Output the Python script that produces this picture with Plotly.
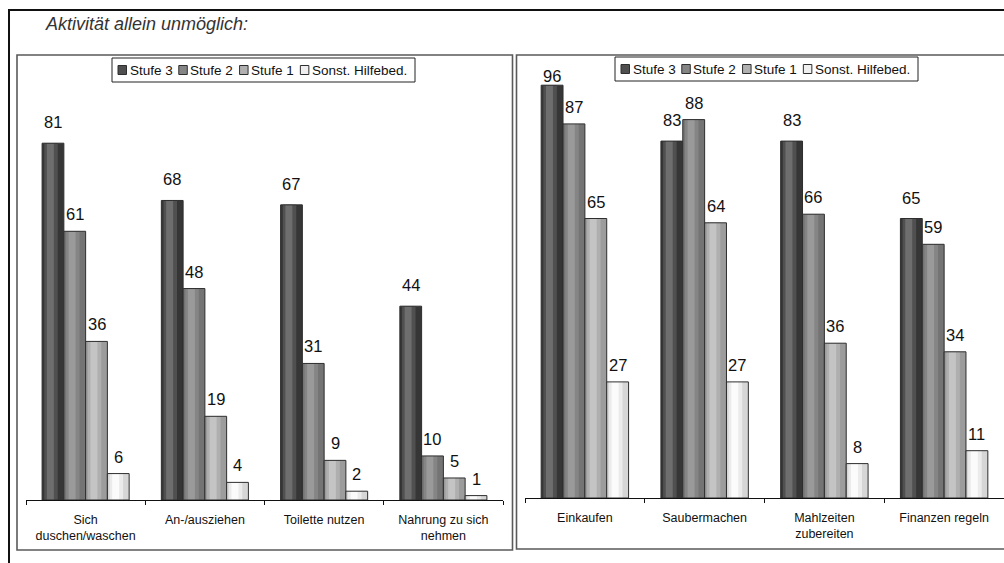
import plotly.graph_objects as go

# ---------------- data ----------------
categories_left = ["Sich<br>duschen/waschen", "An-/ausziehen", "Toilette nutzen",
                   "Nahrung zu sich<br>nehmen"]
categories_right = ["Einkaufen", "Saubermachen", "Mahlzeiten<br>zubereiten", "Finanzen regeln"]
series_names = ["Stufe 3", "Stufe 2", "Stufe 1", "Sonst. Hilfebed."]

stufe3_left = [81, 68, 67, 44]
stufe2_left = [61, 48, 31, 10]
stufe1_left = [36, 19, 9, 5]
sonst_left = [6, 4, 2, 1]

stufe3_right = [96, 83, 83, 65]
stufe2_right = [87, 88, 66, 59]
stufe1_right = [65, 64, 36, 34]
sonst_right = [27, 27, 8, 11]

title_text = "Aktivität allein unmöglich:"

# ---------------- styling ----------------
W, H = 1004, 563
FONT = "Liberation Sans, Arial, sans-serif"
# (edge, mid, highlight) shades to imitate the cylinder-like gradient
shades = [
    ("#363636", "#505050", "#6e6e6e"),
    ("#747474", "#858585", "#9a9a9a"),
    ("#9c9c9c", "#afafaf", "#c4c4c4"),
    ("#d6d6d6", "#ebebeb", "#fbfbfb"),
]
legend_fill = ["#4f4f4f", "#858585", "#b0b0b0", "#efefef"]
label_gap = [15, 11, 11, 11]

def px(x):
    return x / W

def py(y):
    return 1 - y / H

panels = [
    dict(cats=categories_left, vals=[stufe3_left, stufe2_left, stufe1_left, sonst_left],
         xd=(26, 503), base=500, top=59.5, xa="x", ya="y", legend=(112, 415, 58, 82)),
    dict(cats=categories_right, vals=[stufe3_right, stufe2_right, stufe1_right, sonst_right],
         xd=(525, 1004), base=498, top=68, xa="x2", ya="y2", legend=(615, 918, 57, 81)),
]

bw = 0.1825
offsets = [-0.365 + i * bw for i in range(4)]

fig = go.Figure()
annotations = []
shapes = []

for p in panels:
    for i, (name, vals) in enumerate(zip(series_names, p["vals"])):
        o = offsets[i]
        c0, c1, c2 = shades[i]
        layers = [
            (o, bw, c0, 0),
            (o + 0.10 * bw, 0.62 * bw, c1, 0),
            (o + 0.22 * bw, 0.32 * bw, c2, 0),
            (o, bw, "rgba(0,0,0,0)", 1),
        ]
        for (lo, lw, col, lwid) in layers:
            fig.add_trace(go.Bar(
                x=p["cats"], y=vals, name=name, offset=lo, width=lw,
                marker=dict(color=col, line=dict(color="#2e2e2e", width=lwid)),
                xaxis=p["xa"], yaxis=p["ya"], showlegend=False, hoverinfo="skip",
            ))
        # value labels
        ppc = (p["xd"][1] - p["xd"][0]) / 4.0
        scale = (p["base"] - p["top"]) / 100.0
        for c, v in zip(p["cats"], vals):
            bar_top = p["base"] - v * scale
            gap = min(label_gap[i], bar_top - 70 - 12)
            annotations.append(dict(
                x=c, y=v, xref=p["xa"], yref=p["ya"], text=str(v), showarrow=False,
                xanchor="center", yanchor="bottom", xshift=(o + bw / 2) * ppc,
                yshift=gap - 4, borderpad=0,
                font=dict(family=FONT, size=16.5, color="#111111"),
            ))

    # manual legend box
    lx0, lx1, ly0, ly1 = p["legend"]
    shapes.append(dict(type="rect", xref="paper", yref="paper", x0=px(lx0), x1=px(lx1),
                       y0=py(ly1), y1=py(ly0), line=dict(color="#222222", width=1),
                       fillcolor="white", layer="above"))

# Arial widths (em) for legend text layout
cw = {"S": .667, "t": .278, "u": .556, "f": .278, "e": .556, " ": .278, "1": .556, "2": .556,
      "3": .556, "o": .556, "n": .556, "s": .5, ".": .278, "H": .722, "i": .222, "l": .222,
      "b": .556, "d": .556}
LFS = 13.5

for p in panels:
    lx0, lx1, ly0, ly1 = p["legend"]
    ymid = (ly0 + ly1) / 2
    x = lx0 + 6
    for i, name in enumerate(series_names):
        shapes.append(dict(type="rect", xref="paper", yref="paper", x0=px(x), x1=px(x + 8.5),
                           y0=py(ymid + 4.5), y1=py(ymid - 4.5),
                           line=dict(color="#2e2e2e", width=1), fillcolor=legend_fill[i],
                           layer="above"))
        annotations.append(dict(x=px(x + 10.5), y=py(ymid + 0.5), xref="paper", yref="paper",
                                text=name, showarrow=False, xanchor="left", yanchor="middle",
                                borderpad=0, font=dict(family=FONT, size=LFS, color="#111111")))
        tw = sum(cw.get(ch, .556) for ch in name) * LFS
        x = x + 10.5 + tw + 7.5

# frames
shapes.append(dict(type="rect", xref="paper", yref="paper", x0=px(9), x1=1.03,
                   y0=-0.03, y1=py(10), line=dict(color="#111111", width=2), layer="below"))
shapes.append(dict(type="rect", xref="paper", yref="paper", x0=px(17), x1=px(512.5),
                   y0=py(550), y1=py(55), line=dict(color="#5a5a5a", width=1.6), layer="below"))
shapes.append(dict(type="rect", xref="paper", yref="paper", x0=px(516.5), x1=1.03,
                   y0=py(549), y1=py(55), line=dict(color="#5a5a5a", width=1.6), layer="below"))

annotations.append(dict(x=px(44), y=py(23.5), xref="paper", yref="paper", text="<i>" + title_text + "</i>",
                        showarrow=False, xanchor="left", yanchor="middle", borderpad=0,
                        font=dict(family=FONT, size=18, color="#333333")))

xaxis_common = dict(type="category", showline=True, linecolor="#111111", linewidth=1,
                    ticks="outside", tickson="boundaries", ticklen=4, tickcolor="#111111",
                    showgrid=False, zeroline=False, ticklabelstandoff=8,
                    tickfont=dict(family=FONT, size=12.5, color="#111111"), fixedrange=True)
yaxis_common = dict(range=[0, 100], visible=False, showgrid=False, zeroline=False, fixedrange=True)

fig.update_layout(
    width=W, height=H, margin=dict(l=0, r=0, t=0, b=0),
    paper_bgcolor="white", plot_bgcolor="rgba(0,0,0,0)",
    barmode="overlay", showlegend=False,
    xaxis=dict(domain=[px(26), px(503)], anchor="y", **xaxis_common),
    yaxis=dict(domain=[py(500), py(59.5)], anchor="x", **yaxis_common),
    xaxis2=dict(domain=[px(525), px(1004)], anchor="y2", **xaxis_common),
    yaxis2=dict(domain=[py(498), py(68)], anchor="x2", **yaxis_common),
    annotations=annotations, shapes=shapes,
    font=dict(family=FONT),
)

fig.write_html("out.html")
